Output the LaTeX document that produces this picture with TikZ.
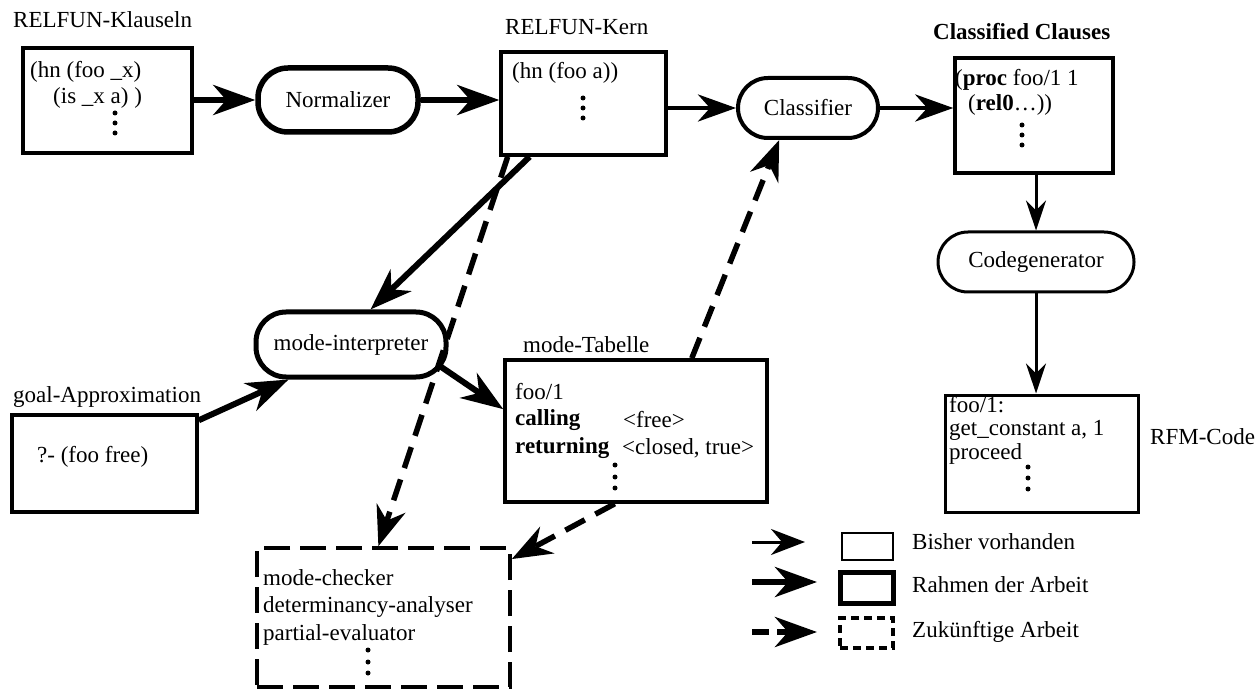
\documentclass[tikz,border=0pt]{standalone}
\usepackage{fontspec}
\setmainfont{Liberation Serif}
\usetikzlibrary{arrows.meta,calc}
\begin{document}
\begin{tikzpicture}[x=1pt,y=-1pt,
  every node/.style={font=\fontsize{23}{28}\selectfont, inner sep=0pt},
  txt/.style={anchor=west},
  box/.style={draw, line width=3.5pt},
  rbox/.style={draw, rounded corners=30pt, line width=4pt},
  dbox/.style={draw, line width=3.5pt, dash pattern=on 26pt off 10pt},
  solidarr/.style={line width=6pt, -{Stealth[length=42pt,width=30pt,inset=13pt]}},
  medarr/.style={line width=4.5pt, -{Stealth[length=38pt,width=27pt,inset=12pt]}},
  thinarr/.style={line width=3pt, -{Stealth[length=30pt,width=20pt,inset=10pt]}},
  dasharr/.style={line width=5.5pt, dash pattern=on 22pt off 12pt, -{Stealth[length=40pt,width=30pt,inset=13pt]}},
  vdot/.style={fill, circle, minimum size=5pt}
]
\useasboundingbox (0,0) rectangle (1260,692);

% titles
\node[txt] (tkl) at (13,20) {RELFUN-Klauseln};
\node[txt] (tkern) at (505,27) {RELFUN-Kern};
\node[txt, font=\fontsize{23}{28}\selectfont\bfseries] (tcc) at (933,32) {Classified Clauses};
\node[txt] (ttab) at (523,345) {mode-Tabelle};
\node[txt] (tgoal) at (13,397) {goal-Approximation};
\node[txt] (trfm) at (1150,437) {RFM-Code};

% boxes
\node[box, minimum width=169, minimum height=105] (kl) at (107.5,100.5) {};
\node[rbox, line width=5.5pt, minimum width=160, minimum height=64] (norm) at (338,100) {Normalizer};
\node[box, minimum width=165, minimum height=103] (kern) at (583.5,103.5) {};
\node[rbox, minimum width=140, minimum height=60] (clf) at (808,108) {Classifier};
\node[box, minimum width=158, minimum height=115] (cc) at (1034,115.5) {};
\node[rbox, line width=3pt, minimum width=196, minimum height=60] (cg) at (1036,262) {Codegenerator};
\node[box, line width=3pt, minimum width=193, minimum height=117] (rfm) at (1041.5,453.5) {};
\node[rbox, line width=5pt, minimum width=190, minimum height=65] (mi) at (351,344.5) {mode-interpreter};
\node[box, minimum width=185, minimum height=97] (goal) at (104.5,463.5) {};
\node[box, line width=3.5pt, minimum width=262, minimum height=142] (tab) at (636,431) {};
\node[dbox, minimum width=253, minimum height=139] (fut) at (383.5,617.5) {};

% box contents
\node[txt] (kl1) at (30,72) {(hn (foo \_x)};
\node[txt] (kl2) at (53,98) {(is \_x a) )};
\node[vdot] (kld1) at (115,113) {};
\node[vdot] (kld2) at (115,123) {};
\node[vdot] (kld3) at (115,133) {};

\node[txt] (ke1) at (512,73) {(hn (foo a))};
\node[vdot] (ked1) at (583,98) {};
\node[vdot] (ked2) at (583,108) {};
\node[vdot] (ked3) at (583,118) {};

\node[txt] (cc1) at (955,80) {(\textbf{proc} foo/1 1};
\node[txt] (cc2) at (968,105) {(\textbf{rel0}\dots))};
\node[vdot] (ccd1) at (1022,125) {};
\node[vdot] (ccd2) at (1022,135) {};
\node[vdot] (ccd3) at (1022,145) {};

\node[txt] (tb1) at (515,392) {foo/1};
\node[txt, font=\fontsize{23}{28}\selectfont\bfseries] (tb2) at (515,420) {calling};
\node[txt] (tb2b) at (623,420) {<free>};
\node[txt, font=\fontsize{23}{28}\selectfont\bfseries] (tb3) at (515,448) {returning};
\node[txt] (tb3b) at (622,448) {<closed, true>};
\node[vdot] (tbd1) at (615,465) {};
\node[vdot] (tbd2) at (615,477) {};
\node[vdot] (tbd3) at (615,488) {};

\node[anchor=north west, align=left, font=\fontsize{23}{23.5}\selectfont] (rf) at (949,396) {foo/1:\\get\_constant a, 1\\proceed};
\node[vdot] (rfd1) at (1028,467) {};
\node[vdot] (rfd2) at (1028,478) {};
\node[vdot] (rfd3) at (1028,489) {};

\node[txt] (gl1) at (37,457) {?- (foo free)};

\node[txt] (fu1) at (263,578) {mode-checker};
\node[txt] (fu2) at (263,607) {determinancy-analyser};
\node[txt] (fu3) at (263,635) {partial-evaluator};
\node[vdot] (fud1) at (368,650) {};
\node[vdot] (fud2) at (368,662) {};
\node[vdot] (fud3) at (368,673) {};

% connectors
\draw[solidarr] (kl.east |- norm.west) -- (norm.west);
\draw[solidarr] (norm.east) -- (norm.east -| kern.west);
\draw[medarr] (clf.west -| kern.east) -- (clf.west);
\draw[medarr] (clf.east) -- (clf.east -| cc.west);
\draw[thinarr] (cg.north |- cc.south) -- (cg.north);
\draw[thinarr] (cg.south) -- (cg.south |- rfm.north);
\draw[solidarr] ($(kern.south west)!0.18!(kern.south east)$) -- ($(mi.north west)!0.6!(mi.north east)$);
\draw[solidarr] ($(goal.north east)!0.07!(goal.south east)$) -- ($(mi.south west)!0.18!(mi.south east)$);
\draw[solidarr] ($(mi.east)+(-8,22)$) -- ($(tab.north west)!0.35!(tab.south west)$);
\draw[dasharr] ($(kern.south west)!0.05!(kern.south east)$) -- ($(fut.north west)!0.48!(fut.north east)$);
\draw[dasharr] ($(tab.north west)!0.71!(tab.north east)$) -- ($(clf.south west)!0.3!(clf.south east)$);
\draw[dasharr] ($(tab.south west)!0.42!(tab.south east)$) -- ($(fut.north east)!0.09!(fut.south east)$);

% legend
\coordinate (l1a) at (752,542);
\coordinate (l1b) at (805,542);
\coordinate (l2a) at (752,582);
\coordinate (l2b) at (817,582);
\coordinate (l3a) at (752,632);
\coordinate (l3b) at (817,632);
\draw[line width=3pt, -{Stealth[length=34pt,width=26pt,inset=11pt]}] (l1a) -- (l1b);
\draw[line width=6pt, -{Stealth[length=42pt,width=30pt,inset=13pt]}] (l2a) -- (l2b);
\draw[line width=6pt, dash pattern=on 17pt off 8pt, -{Stealth[length=42pt,width=30pt,inset=13pt]}] (l3a) -- (l3b);
\node[draw, line width=2.5pt, minimum width=51, minimum height=27] (lb1) at (867.5,546.5) {};
\node[draw, line width=5pt, minimum width=53, minimum height=31] (lb2) at (866.5,587.5) {};
\node[draw, line width=4pt, dash pattern=on 8pt off 5pt, minimum width=53, minimum height=30] (lb3) at (866.5,633) {};
\node[txt] (lt1) at (912,542) {Bisher vorhanden};
\node[txt] (lt2) at (912,585) {Rahmen der Arbeit};
\node[txt] (lt3) at (912,632) {Zukünftige Arbeit};
\end{tikzpicture}
\end{document}
